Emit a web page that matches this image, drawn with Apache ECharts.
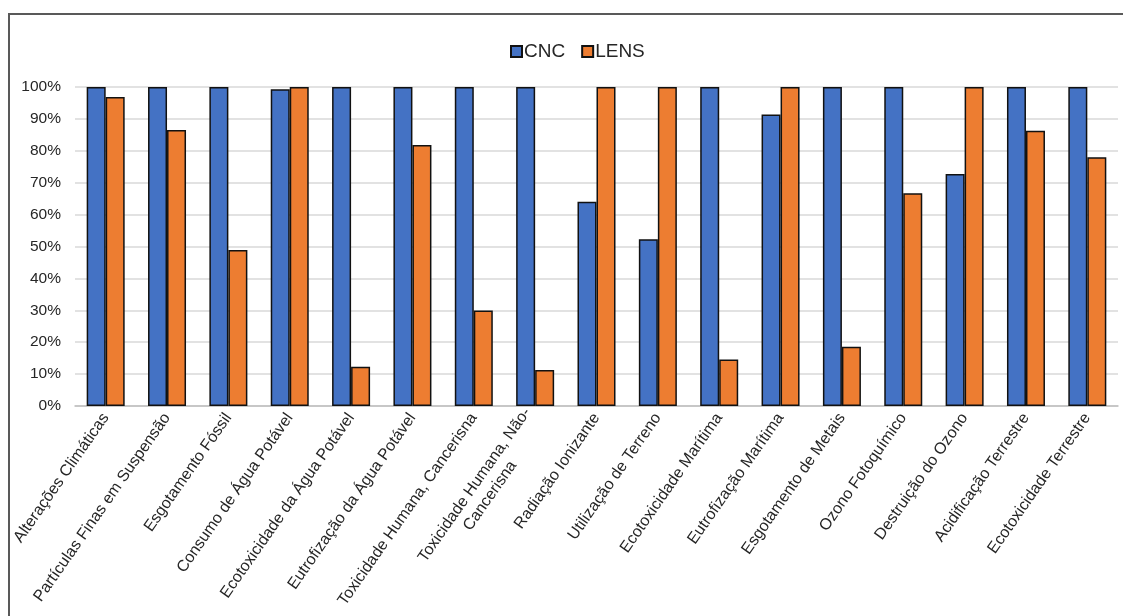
<!DOCTYPE html>
<html>
<head>
<meta charset="utf-8">
<script src="https://cdn.jsdelivr.net/npm/echarts@6/dist/echarts.min.js"></script>
<style>
  html, body { margin: 0; padding: 0; background: #ffffff; }
  #chart { width: 1123px; height: 616px; }
</style>
</head>
<body>
<div id="chart"></div>
<script>
// Impact categories (x axis)
const categories = [
  'Alterações Climáticas',
  'Partículas Finas em Suspensão',
  'Esgotamento Fóssil',
  'Consumo de Água Potável',
  'Ecotoxicidade da Água Potável',
  'Eutrofização da Água Potável',
  'Toxicidade Humana, Cancerisna',
  'Toxicidade Humana, Não-\nCancerisna',
  'Radiação Ionizante',
  'Utilização de Terreno',
  'Ecotoxicidade Marítima',
  'Eutrofização Marítima',
  'Esgotamento de Metais',
  'Ozono Fotoquímico',
  'Destruição do Ozono',
  'Acidificação Terrestre',
  'Ecotoxicidade Terrestre'
];

// Relative impact, percent of the larger of the two
const cncValues = [100, 100, 100, 99.3, 100, 100, 100, 100, 64.0, 52.3, 100, 91.4, 100, 100, 72.7, 100, 100];
const lensValues = [96.9, 86.5, 48.9, 100, 12.3, 81.8, 29.9, 11.3, 100, 100, 14.6, 100, 18.6, 66.7, 100, 86.3, 78.0];

// Y tick settings
const yMin = 0;
const yMax = 100;
const yStep = 10;

const seriesNames = ['CNC', 'LENS'];
const seriesColors = ['#4472C4', '#ED7D31'];

const textColor = '#262626';
const fontFamily = '"Liberation Sans", Arial, sans-serif';

const chart = echarts.init(document.getElementById('chart'), null, { renderer: 'canvas' });

function labelFormatter(value) {
  const lines = value.split('\n');
  if (lines.length === 1) return value;
  return '{a|' + lines[0] + '}\n{b|' + lines[1] + '}';
}

const option = {
  backgroundColor: '#ffffff',
  animation: false,
  graphic: [{
    type: 'rect',
    shape: { x: 9, y: 14, width: 1200, height: 700 },
    style: { fill: 'none', stroke: '#595959', lineWidth: 2 },
    silent: true,
    z: 0
  }],
  legend: {
    left: 505,
    top: 37,
    itemWidth: 11,
    itemHeight: 11,
    itemGap: 16,
    icon: 'rect',
    textStyle: { fontSize: 19, color: textColor, fontFamily: fontFamily, padding: [0, 0, 0, -3] },
    data: seriesNames
  },
  grid: {
    left: 75,
    right: 5,
    top: 87,
    bottom: 210,
    containLabel: false
  },
  xAxis: {
    type: 'category',
    data: categories,
    axisLine: { show: true, lineStyle: { color: '#bfbfbf', width: 1.5 } },
    axisTick: { show: false },
    axisLabel: {
      interval: 0,
      rotate: 55,
      margin: 9,
      fontSize: 16,
      color: textColor,
      fontFamily: fontFamily,
      lineHeight: 19,
      formatter: labelFormatter,
      rich: {
        a: { fontSize: 16, color: textColor, fontFamily: fontFamily, lineHeight: 19 },
        b: { fontSize: 16, color: textColor, fontFamily: fontFamily, lineHeight: 19, align: 'center' }
      }
    }
  },
  yAxis: {
    type: 'value',
    min: yMin,
    max: yMax,
    interval: yStep,
    axisLine: { show: false },
    axisTick: { show: false },
    axisLabel: {
      formatter: '{value}%',
      fontSize: 15.5,
      color: textColor,
      fontFamily: fontFamily,
      margin: 14
    },
    splitLine: { show: true, lineStyle: { color: '#d9d9d9', width: 1.5 } }
  },
  series: [
    {
      name: seriesNames[0],
      type: 'bar',
      data: cncValues,
      barWidth: 19,
      barGap: '0%',
      itemStyle: { color: seriesColors[0], borderColor: '#111111', borderWidth: 1.5 }
    },
    {
      name: seriesNames[1],
      type: 'bar',
      data: lensValues,
      barWidth: 19,
      barGap: '0%',
      itemStyle: { color: seriesColors[1], borderColor: '#111111', borderWidth: 1.5 }
    }
  ]
};

chart.setOption(option);
</script>
</body>
</html>
